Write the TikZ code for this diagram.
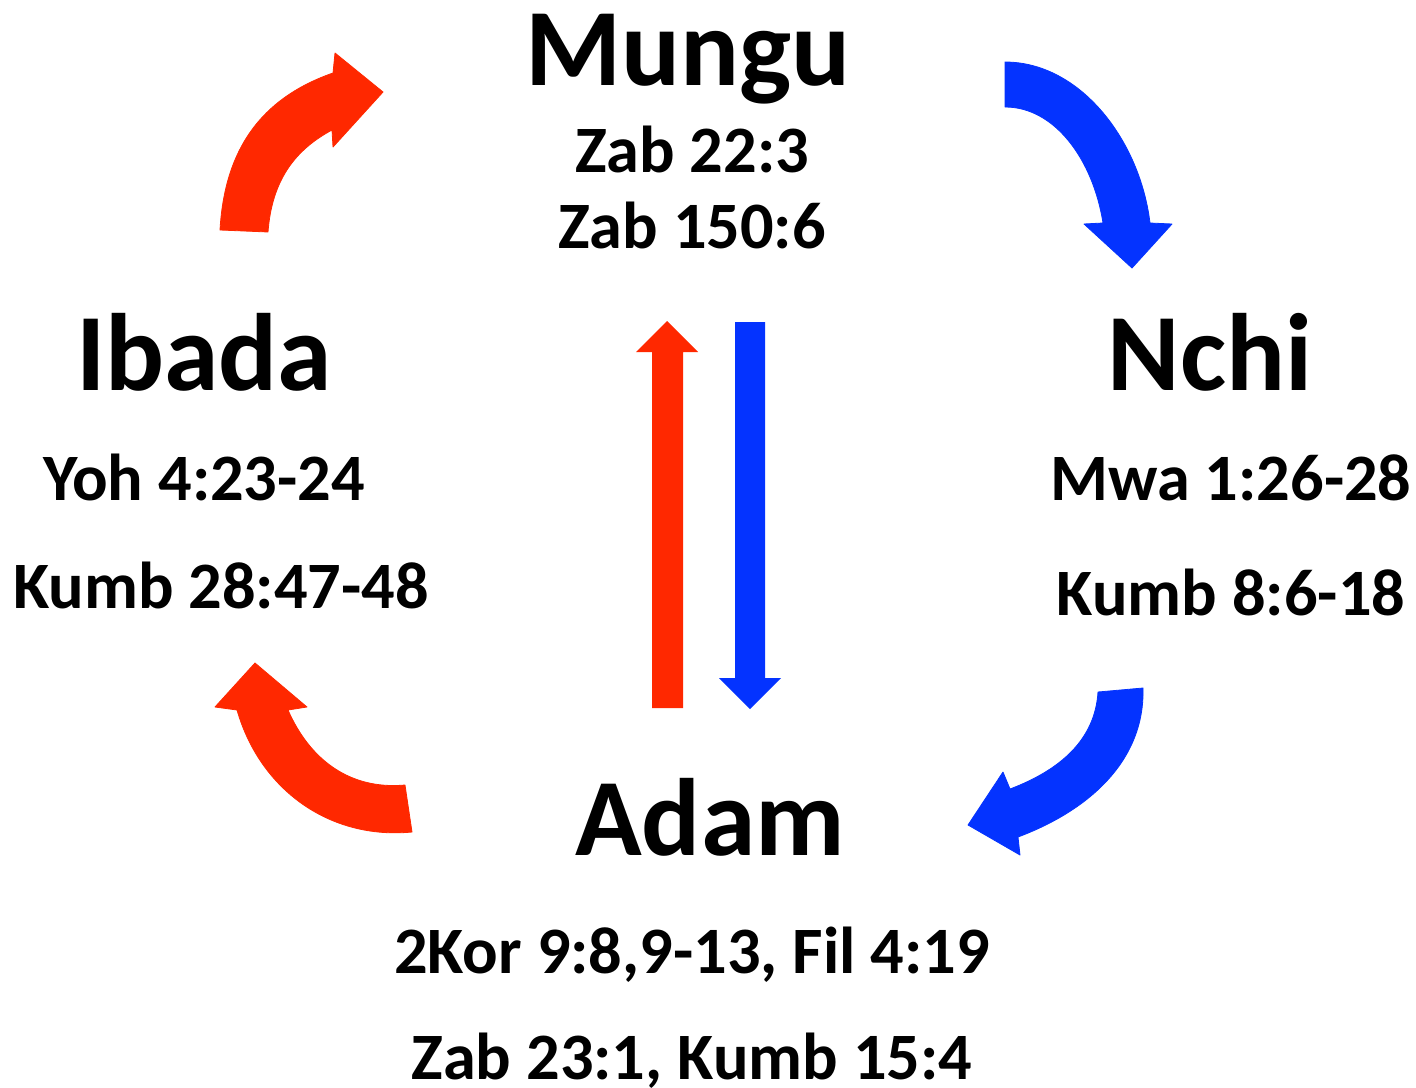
\documentclass[tikz,border=0pt]{standalone}
\usepackage{fontspec}
\setmainfont{Carlito}
\definecolor{arred}{RGB}{255,40,0}
\definecolor{arblue}{RGB}{4,51,255}
\begin{document}
\begin{tikzpicture}[x=1pt,y=-1pt,
  big/.style={anchor=base,inner sep=0pt,font=\fontsize{110}{110}\selectfont\bfseries},
  ref/.style={anchor=base,inner sep=0pt,font=\fontsize{66.3}{66}\selectfont\bfseries},
  redarrow/.style={fill=arred,draw=arred,line width=0.8pt,line join=round},
  bluearrow/.style={fill=arblue,draw=arblue,line width=0.8pt,line join=round}]
\useasboundingbox (0,0) rectangle (1416,1087);
% texts
\node[big] (mungu) at (688,85) {Mungu};
\node[ref] (m1) at (692,172) {Zab 22:3};
\node[ref] (m2) at (692,248) {Zab 150:6};
\node[big] (ibada) at (204,390) {Ibada};
\node[ref] (i1) at (204,500) {Yoh 4:23-24};
\node[ref] (i2) at (221,608) {Kumb 28:47-48};
\node[big] (nchi) at (1210,390) {Nchi};
\node[ref] (n1) at (1231,500) {Mwa 1:26-28};
\node[ref] (n2) at (1231,615) {Kumb 8:6-18};
\node[big] (adam) at (710,855) {Adam};
\node[ref] (a1) at (692,973) {2Kor 9:8,9-13, Fil 4:19};
\node[ref] (a2) at (692,1079) {Zab 23:1, Kumb 15:4};
% straight arrows
\fill[arred] (652,708) -- (652,352) -- (636,352) -- (667,321) -- (698,352) -- (683,352) -- (683,708) -- cycle;
\fill[arblue] (735,322) -- (735,678) -- (719,678) -- (750,709) -- (781,678) -- (765,678) -- (765,322) -- cycle;
% top-left red
\path[redarrow] (220,230) .. controls (225,140) and (270,95) .. (333,73)
  -- (335,53) -- (383,92) -- (333,147) -- (332,130)
  .. controls (295,150) and (272,180) .. (268,232) -- cycle;
% top-right blue
\path[bluearrow] (1005,62) .. controls (1080,62) and (1140,140) .. (1150,223)
  -- (1172,224) -- (1132,268) -- (1084,224) -- (1103,223)
  .. controls (1093,160) and (1055,107) .. (1005,107) -- cycle;
% bottom-left red
\path[redarrow] (412,832) .. controls (330,840) and (260,790) .. (237,710)
  -- (215,707) -- (255,663) -- (307,707) -- (288,710)
  .. controls (310,760) and (350,790) .. (405,785) -- cycle;
% bottom-right blue
\path[bluearrow] (1143,688) .. controls (1145,760) and (1090,810) .. (1018,837)
  -- (1020,855) -- (968,825) -- (1003,772) -- (1010,789)
  .. controls (1060,770) and (1095,740) .. (1098,692) -- cycle;
\end{tikzpicture}
\end{document}
